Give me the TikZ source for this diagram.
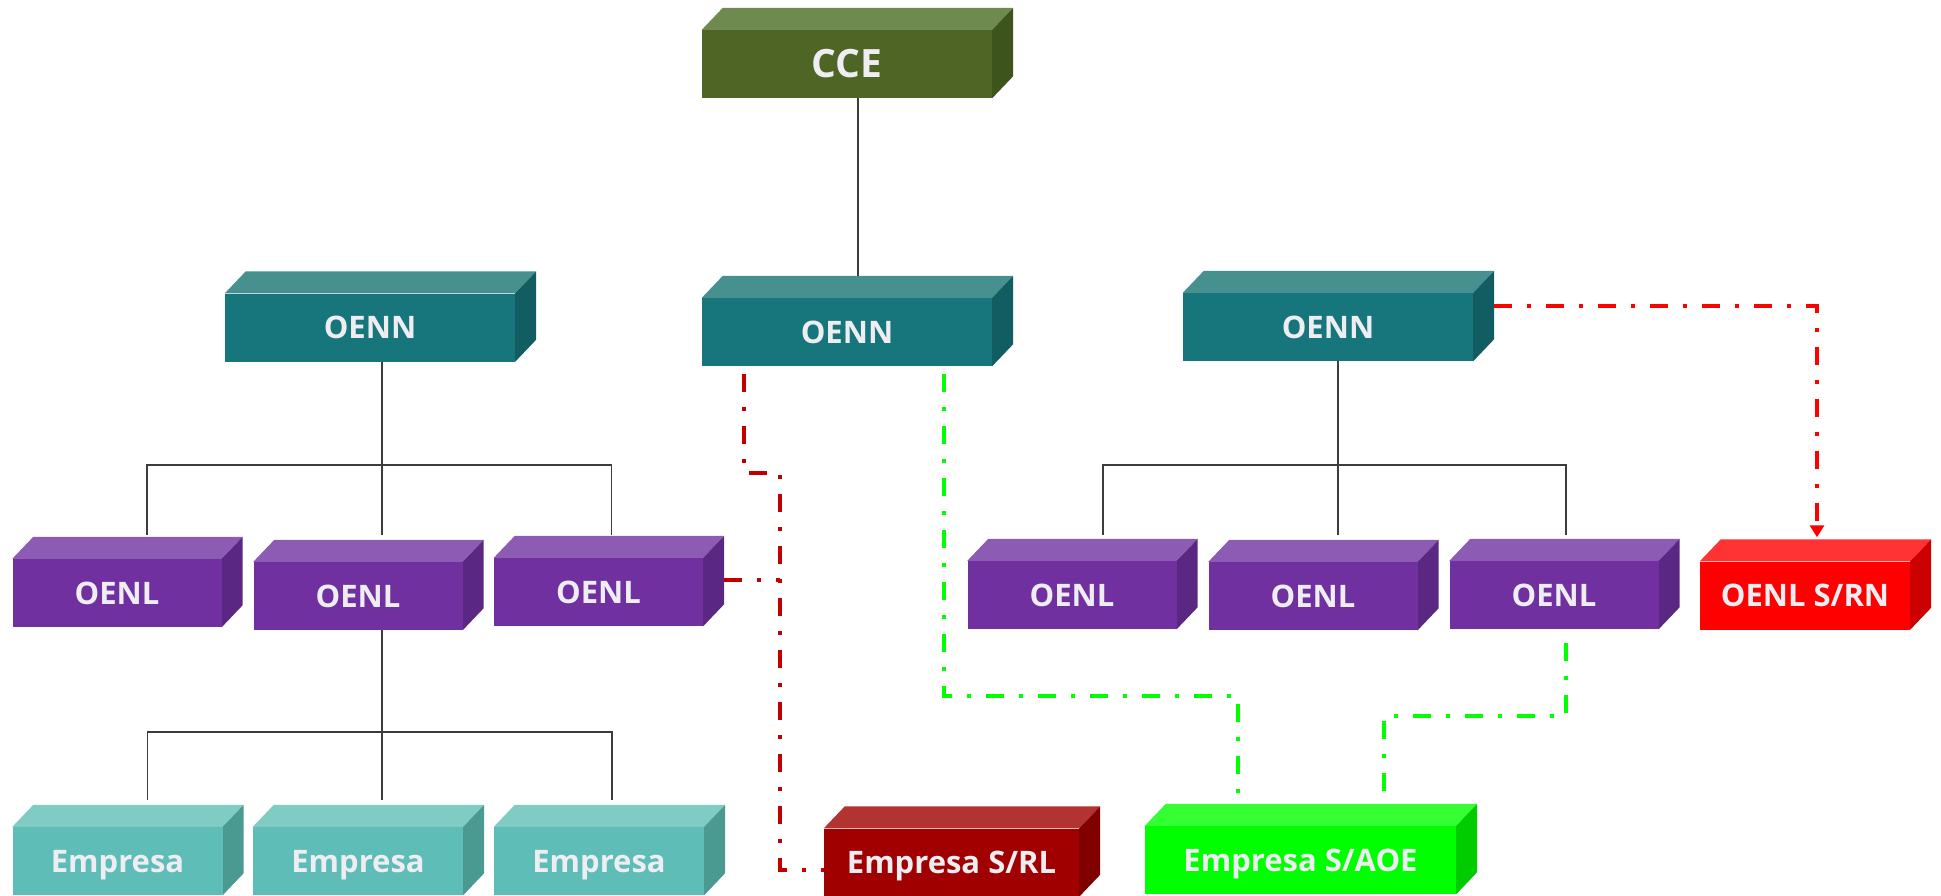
\documentclass[tikz,border=0pt]{standalone}
\usepackage{fontspec}
\setmainfont{Open Sans}
\usepackage[HTML]{xcolor}
\usetikzlibrary{positioning, arrows.meta}

% colores de las cajas (frente, tapa, lado)
\definecolor{cceF}{HTML}{4E6526}
\definecolor{cceT}{HTML}{6E8A4E}
\definecolor{cceS}{HTML}{3D541D}
\definecolor{oennF}{HTML}{17767C}
\definecolor{oennT}{HTML}{46918F}
\definecolor{oennS}{HTML}{125D61}
\definecolor{oenlF}{HTML}{7030A0}
\definecolor{oenlT}{HTML}{8C5CB4}
\definecolor{oenlS}{HTML}{5A2882}
\definecolor{empF}{HTML}{5FBDB7}
\definecolor{empT}{HTML}{80CCC5}
\definecolor{empS}{HTML}{4A9A92}
\definecolor{rlF}{HTML}{A00000}
\definecolor{rlT}{HTML}{B33232}
\definecolor{rlS}{HTML}{800000}
\definecolor{aoeF}{HTML}{00FF00}
\definecolor{aoeT}{HTML}{33FF33}
\definecolor{aoeS}{HTML}{00CC00}
\definecolor{rnF}{HTML}{FF0000}
\definecolor{rnT}{HTML}{FF3333}
\definecolor{rnS}{HTML}{CC0000}
\definecolor{textoC}{HTML}{EEEEF2}
\definecolor{rama}{HTML}{3C3C3C}
\definecolor{rojoosc}{HTML}{C00000}

\tikzset{
  cubo/.style n args={3}{fill=#1,
    append after command={\pgfextra{
      \fill[#2] (\tikzlastnode.north west) -- ++(21pt,22pt)
        -- ([xshift=21pt,yshift=22pt]\tikzlastnode.north east)
        -- (\tikzlastnode.north east) -- cycle;
      \fill[#3] (\tikzlastnode.north east) -- ++(21pt,22pt)
        -- ([xshift=21pt,yshift=22pt]\tikzlastnode.south east)
        -- (\tikzlastnode.south east) -- cycle;}}},
  caja/.style={inner sep=0pt, minimum height=68pt, text=textoC,
    font=\bfseries\fontsize{31}{31}\selectfont, text height=22pt, text depth=0pt},
  ccebox/.style={caja, cubo={cceF}{cceT}{cceS}, minimum width=290pt,
    font=\bfseries\fontsize{39}{39}\selectfont, text height=28pt},
  nacional/.style={caja, cubo={oennF}{oennT}{oennS}, minimum width=290pt},
  local/.style={caja, cubo={oenlF}{oenlT}{oenlS}, minimum width=209pt},
  empresa/.style={caja, cubo={empF}{empT}{empS}, minimum width=210pt},
  linea/.style={draw=rama, line width=1.4pt},
  enlace/.style={line width=4pt, dash pattern=on 18pt off 15pt on 4pt off 15pt}
}

\begin{document}
\begin{tikzpicture}[x=1pt, y=-1pt]
    \useasboundingbox (0,0) rectangle (1941,896);

    % Define nodes
    \node[ccebox] (cce) at (847,64) {CCE};

    \node[nacional] (oennA) at (370,327.5) {OENN};
    \node[nacional] (oennB) at (847,332) {OENN};
    \node[nacional] (oennC) at (1328,327) {OENN};

    \node[local] (oenlA1) at (117,593) {OENL};
    \node[local] (oenlA2) at (358,596) {OENL};
    \node[local] (oenlA3) at (598.5,592) {OENL};
    \node[local] (oenlC1) at (1072,595) {OENL};
    \node[local] (oenlC2) at (1313,596) {OENL};
    \node[local] (oenlC3) at (1554,595) {OENL};
    \node[caja, cubo={rnF}{rnT}{rnS}, minimum width=210pt] (srn) at (1805,595.5) {OENL S/RN};

    \node[empresa] (emp1) at (117.5,861) {Empresa};
    \node[empresa] (emp2) at (358,861) {Empresa};
    \node[empresa] (emp3) at (599,861) {Empresa};
    \node[caja, cubo={rlF}{rlT}{rlS}, minimum width=255pt] (empRL) at (951.5,862.5) {Empresa S/RL};
    \node[caja, cubo={aoeF}{aoeT}{aoeS}, minimum width=311pt] (empAOE) at (1300.5,860) {Empresa S/AOE};

    % puntos de union
    \coordinate (jA) at (382,465);
    \coordinate (jE) at (382,732);
    \coordinate (jC) at (1338,465);
    \coordinate (rV) at (780,473);
    \coordinate (gV1) at (1238,696);
    \coordinate (gV2) at (1384,716);
    \coordinate (tAOE) at ([yshift=21pt]empAOE.north);
    \coordinate (sA3) at ([xshift=21pt,yshift=12pt]oenlA3.east);

    % Draw lines
    \draw[linea] ([xshift=11pt]cce.south) -- ([xshift=11pt,yshift=22pt]oennB.north);

    \draw[linea] ([xshift=12pt]oennA.south) -- ([xshift=24pt,yshift=27pt]oenlA2.north);
    \draw[linea] ([xshift=30pt,yshift=24pt]oenlA1.north) |- (jA) -| ([xshift=13pt,yshift=23pt]oenlA3.north);
    \draw[linea] ([xshift=24pt]oenlA2.south) -- ([xshift=24pt,yshift=27pt]emp2.north);
    \draw[linea] ([xshift=30pt,yshift=27pt]emp1.north) |- (jE) -| ([xshift=13pt,yshift=27pt]emp3.north);

    \draw[linea] ([xshift=10pt]oennC.south) -- ([xshift=25pt,yshift=27pt]oenlC2.north);
    \draw[linea] ([xshift=31pt,yshift=26pt]oenlC1.north) |- (jC) -| ([xshift=12pt,yshift=26pt]oenlC3.north);

    % Draw links
    \draw[enlace, rojoosc, shorten <=8pt] ([xshift=-103pt]oennB.south) |- (rV) |- ([yshift=-7pt]empRL.west);
    \draw[enlace, rojoosc] (sA3) -- (sA3 -| rV);
    \draw[enlace, aoeF, shorten <=8pt] ([xshift=97pt]oennB.south) |- (gV1) -- (gV1 |- tAOE);
    \draw[enlace, aoeF, shorten <=14pt] ([xshift=12pt]oenlC3.south) |- (gV2) -- (gV2 |- tAOE);
    \draw[enlace, rnF, -{Triangle[width=14pt,length=12pt]}] ([xshift=21pt,yshift=21pt]oennC.east) -| ([xshift=12pt,yshift=24pt]srn.north);
\end{tikzpicture}
\end{document}
